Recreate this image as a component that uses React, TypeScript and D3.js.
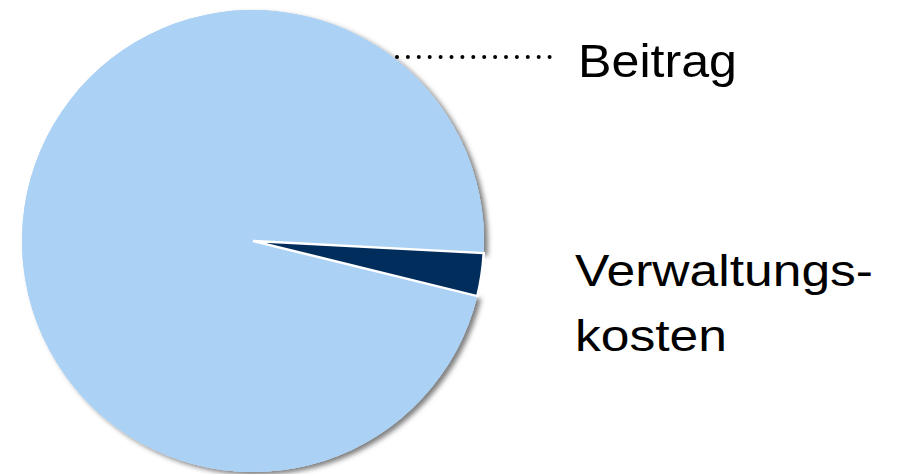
import React from "react";
import * as d3 from "d3";

const categories = ["Verwaltungskosten", "Beitrag"];
const values = [3, 97];
const colors = ["#002D5C", "#ABD1F5"];
const labelLines = [["Beitrag"], ["Verwaltungs-", "kosten"]];

const W = 910;
const H = 474;
const cx = 253;
const cy = 241;
const R = 231;

export default function App() {
  const pie = d3
    .pie<number>()
    .sort(null)
    .startAngle((93 * Math.PI) / 180)
    .endAngle((93 * Math.PI) / 180 + 2 * Math.PI);
  const arcs = pie(values);
  const arc = d3.arc<d3.PieArcDatum<number>>().innerRadius(0).outerRadius(R);

  return (
    <svg
      width={W}
      height={H}
      style={{ position: "absolute", left: 0, top: 0 }}
      fontFamily="Liberation Sans, Arial, sans-serif"
    >
      <defs>
        <filter id="sh" x="-10%" y="-10%" width="130%" height="130%">
          <feDropShadow dx="4" dy="3" stdDeviation="2.5" floodColor="#000" floodOpacity="0.5" />
        </filter>
      </defs>
      <g transform={`translate(${cx},${cy})`}>
        <path d={arc(arcs[1]) || ""} fill={colors[1]} filter="url(#sh)" />
        <path d={arc(arcs[1]) || ""} fill={colors[1]} />
        <path
          d={arc(arcs[0]) || ""}
          fill={colors[0]}
          stroke="#fff"
          strokeWidth={2.5}
          strokeLinejoin="miter"
        />
      </g>
      <line
        x1={397}
        x2={551}
        y1={57}
        y2={57}
        stroke="#000"
        strokeWidth={4}
        strokeLinecap="round"
        strokeDasharray="0 10.9"
      />
      <text fontSize={47} fill="#000">
        <tspan x={578} y={77} textLength={159} lengthAdjust="spacingAndGlyphs">
          {labelLines[0][0]}
        </tspan>
      </text>
      <text fontSize={44} fill="#000">
        <tspan x={575} y={286} textLength={298} lengthAdjust="spacingAndGlyphs">
          {labelLines[1][0]}
        </tspan>
        <tspan x={575} y={351} textLength={152} lengthAdjust="spacingAndGlyphs">
          {labelLines[1][1]}
        </tspan>
      </text>
    </svg>
  );
}
